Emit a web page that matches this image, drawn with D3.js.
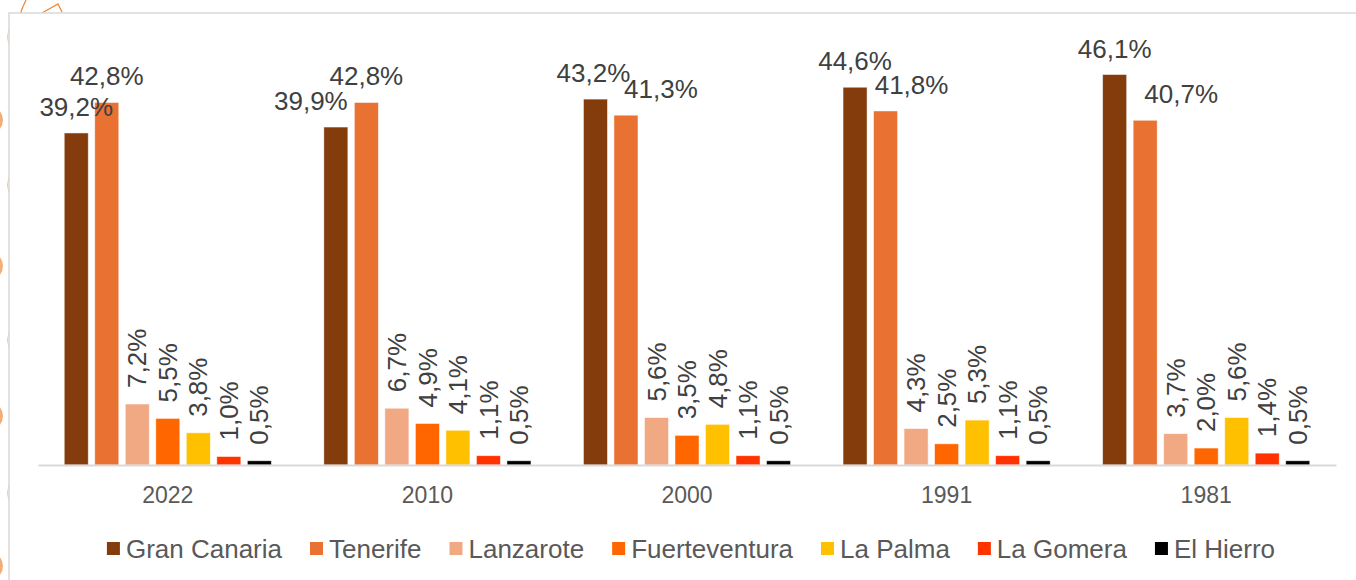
<!DOCTYPE html>
<html>
<head>
<meta charset="utf-8">
<script src="https://cdn.jsdelivr.net/npm/d3@7"></script>
<style>
  body { margin: 0; background: #fff; }
  svg { display: block; font-family: "Liberation Sans", Arial, sans-serif; }
</style>
</head>
<body>
<div id="chart"></div>
<script>
//////////////////////////////  data  /////////////////////////////////
var years = ["2022", "2010", "2000", "1991", "1981"];
var islands = ["Gran Canaria", "Tenerife", "Lanzarote", "Fuerteventura", "La Palma", "La Gomera", "El Hierro"];

// share of population (%) per island, in the order of years
var granCanaria   = [39.2, 39.9, 43.2, 44.6, 46.1];
var tenerife      = [42.8, 42.8, 41.3, 41.8, 40.7];
var lanzarote     = [7.2, 6.7, 5.6, 4.3, 3.7];
var fuerteventura = [5.5, 4.9, 3.5, 2.5, 2.0];
var laPalma       = [3.8, 4.1, 4.8, 5.3, 5.6];
var laGomera      = [1.0, 1.1, 1.1, 1.1, 1.4];
var elHierro      = [0.5, 0.5, 0.5, 0.5, 0.5];

var seriesValues = [granCanaria, tenerife, lanzarote, fuerteventura, laPalma, laGomera, elHierro];
var colors = ["#843c0c", "#e97132", "#f1a983", "#ff6600", "#ffc000", "#ff3300", "#000000"];

// horizontal nudge of the two big labels (Excel moved them apart)
var labelNudge = [
  [0, -25, -2, 0, 0],
  [0, 0, 35, 26, 36]
];

//////////////////////////////  layout  /////////////////////////////////
var W = 1356, H = 580;
var x0 = 38, x1 = 1336, yBase = 465;

var svg = d3.select("#chart").append("svg")
  .attr("width", W)
  .attr("height", H);

// slide background bits on the left
var deco = svg.append("g").attr("fill", "none").attr("stroke", "#f4a460");
deco.append("path").attr("d", "M15,40 Q18,15 26,0").attr("stroke-width", 1.3).attr("stroke", "#ed8a3c");
deco.append("path").attr("d", "M42,13 L58,4 L62,12").attr("stroke-width", 1.3).attr("stroke", "#ed8a3c");
[120, 266, 416, 566].forEach(function(cy) {
  svg.append("circle").attr("cx", -11).attr("cy", cy).attr("r", 14)
    .attr("fill", "#f0a060").attr("opacity", 0.85);
});
[37, 185, 340, 493].forEach(function(cy) {
  svg.append("path").attr("d", "M9," + (cy - 8) + " Q6," + cy + " 9," + (cy + 8))
    .attr("fill", "none").attr("stroke", "#f6c49a").attr("stroke-width", 1);
});

// chart frame
svg.append("rect")
  .attr("x", 9).attr("y", 13)
  .attr("width", W + 20).attr("height", H + 20)
  .attr("fill", "#fff")
  .attr("stroke", "#d9d9d9")
  .attr("stroke-width", 1.5);

var x = d3.scaleBand().domain(years).range([x0, x1]);
var xi = d3.scaleBand().domain(islands).range([0, x.bandwidth()])
  .paddingInner(0.213).paddingOuter(0.86);
var y = d3.scaleLinear().domain([0, 50]).range([yBase, yBase - 50 * 8.47]);

var locale = d3.formatLocale({decimal: ",", thousands: ".", grouping: [3], currency: ["", "€"]});
var fmt = function(v) { return locale.format(".1f")(v) + "%"; };

// flatten for drawing
var rows = [];
seriesValues.forEach(function(vals, s) {
  vals.forEach(function(v, k) {
    rows.push({island: islands[s], s: s, year: years[k], k: k, value: v});
  });
});

// bars
svg.append("g").selectAll("rect")
  .data(rows)
  .enter()
  .append("rect")
  .attr("x", function(d) { return x(d.year) + xi(d.island); })
  .attr("y", function(d) { return y(d.value); })
  .attr("width", xi.bandwidth())
  .attr("height", function(d) { return yBase - y(d.value); })
  .attr("fill", function(d) { return colors[d.s]; })
  .attr("stroke", "#fff")
  .attr("stroke-width", 0.8)
  .attr("stroke-opacity", 0.6);

// x axis
var xAxis = svg.append("g")
  .attr("transform", "translate(0," + yBase + ")")
  .call(d3.axisBottom(x).tickSize(0).tickPadding(22));
xAxis.select(".domain").attr("stroke", "#d9d9d9").attr("stroke-width", 2);
xAxis.selectAll("text")
  .attr("font-size", "23px")
  .attr("font-family", "Liberation Sans, Arial, sans-serif")
  .attr("fill", "#595959");

// value labels
var labels = svg.append("g")
  .attr("font-size", "26px")
  .attr("fill", "#404040");

labels.selectAll("text.big")
  .data(rows.filter(function(d) { return d.s < 2; }))
  .enter()
  .append("text")
  .attr("class", "big")
  .attr("text-anchor", "middle")
  .attr("x", function(d) { return x(d.year) + xi(d.island) + xi.bandwidth() / 2 + labelNudge[d.s][d.k]; })
  .attr("y", function(d) { return y(d.value) - 17; })
  .text(function(d) { return fmt(d.value); });

labels.selectAll("text.small")
  .data(rows.filter(function(d) { return d.s >= 2; }))
  .enter()
  .append("text")
  .attr("class", "small")
  .attr("text-anchor", "start")
  .attr("dy", "0.35em")
  .attr("transform", function(d) {
    var cx = x(d.year) + xi(d.island) + xi.bandwidth() / 2;
    return "translate(" + cx + "," + (y(d.value) - 16) + ") rotate(-90)";
  })
  .text(function(d) { return fmt(d.value); });

// legend
var legend = svg.append("g").attr("class", "legend");
var items = legend.selectAll("g")
  .data(islands)
  .enter()
  .append("g");
items.append("rect")
  .attr("width", 13).attr("height", 13)
  .attr("y", 542)
  .attr("fill", function(d, i) { return colors[i]; });
items.append("text")
  .attr("x", 19)
  .attr("y", 558)
  .attr("font-size", "26px")
  .attr("fill", "#595959")
  .text(function(d) { return d; });

var gap = 28, pos = 0, offsets = [];
items.each(function() {
  offsets.push(pos);
  pos += 19 + d3.select(this).select("text").node().getComputedTextLength() + gap;
});
var total = pos - gap;
var startX = 691 - total / 2;
items.attr("transform", function(d, i) { return "translate(" + (startX + offsets[i]) + ",0)"; });
</script>
</body>
</html>
